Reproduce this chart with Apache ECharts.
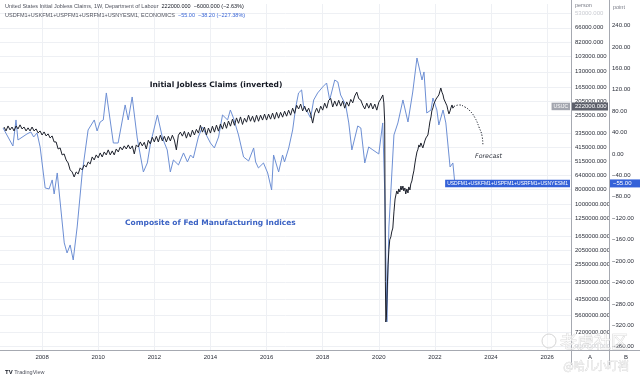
<!DOCTYPE html>
<html><head><meta charset="utf-8">
<script src="https://cdn.jsdelivr.net/npm/echarts@6/dist/echarts.min.js"></script>
<style>html,body{margin:0;padding:0;background:#fff}#c{width:640px;height:379px}</style>
</head><body><div id="c"></div>
<script>
// ---------- DATA ----------
// Initial jobless claims (thousands), regular samples from 2006.643, every 1/14 year
const claimsStartYear = 2006.643;
const claimsStepYears = 1 / 14;
const claimsEarlyK = [
305,324,300,319,305,324,300,314,295,314,
305,324,309,324,305,324,314,334,324,345,
329,350,339,361,350,384,384,428,421,469,
462,507,531,591,610,659,610,629,573,591,
548,565,523,539,484,507,469,491,455,484,
448,469,434,469,441,469,428,448,415,434,
408,428,402,428,408,462,402,415,384,408,
386,428,374,396,357,384,352,384,346,378,
352,384,352,378,346,373,434,346,330,351,
326,362,331,356,320,345,316,335,297,330,
305,345,310,335,301,330,296,325,291,315,
283,311,278,301,270,297,265,288,261,293,
266,283,254,279,258,283,254,279,254,274,
250,274,250,270,246,270,243,266,243,262,
239,258,235,254,228,247,218,231,214,238,
221,242,228,250,287,246,228,246,221,235,
211,228,202,196,224,204,221,202,221,204,
228,207,221,199,210,189,178,197,201,218,
231,211,228,211,231,214,235,208,198,186];
const claimsCovidYears = [2020.18,2020.21,2020.235,2020.25,2020.27,2020.29,2020.31,2020.33,2020.36,2020.39,2020.43,2020.46,2020.50,2020.54,2020.58,2020.61,2020.64,2020.68,2020.71,2020.75,2020.79,2020.82,2020.86,2020.89,2020.93,2020.96,
2021.00,2021.04,2021.07,2021.11,2021.14,2021.18,2021.21,2021.25,2021.29,2021.32,2021.36,2021.39,2021.43,2021.46,2021.50,2021.54,2021.57,2021.61,2021.64,2021.68,2021.71,2021.75,2021.79,2021.82,2021.86,2021.89,2021.93,2021.96,
2022.00,2022.04,2022.07,2022.11,2022.14,2022.18,2022.21,2022.25,2022.29,2022.32,2022.36,2022.39,2022.43,2022.46,2022.50,2022.54,2022.57,2022.61,2022.64,2022.68];
const claimsCovidK = [210,282,3300,6180,5800,4400,3330,2560,2030,1740,1660,1540,1450,1130,926,898,818,857,793,831,758,806,758,818,781,857,
793,844,769,806,734,701,649,600,531,491,448,434,402,415,390,408,421,396,378,361,367,345,309,282,261,238,227,214,
210,198,204,192,186,175,167,178,186,198,192,204,220,234,249,238,227,217,228,222];
const forecastYears = [2022.68,2022.86,2023.07,2023.25,2023.43,2023.57,2023.68,2023.71];
const forecastK = [222,217,224,238,265,305,350,402];

// Composite of Fed manufacturing indices (points)
const fedYears = [2006.61,2006.96,2007.07,2007.14,2007.46,2007.60,2007.70,2007.82,2007.93,2008.11,2008.25,2008.36,2008.43,2008.54,2008.61,2008.79,2008.89,2009.00,2009.11,2009.25,2009.43,2009.64,2009.86,2009.96,2010.07,2010.18,2010.29,2010.54,2010.71,2010.96,2011.07,2011.21,2011.39,2011.61,2011.75,2011.86,2012.11,2012.29,2012.46,2012.57,2012.68,2012.86,2013.04,2013.18,2013.29,2013.39,2013.57,2013.71,2013.89,2014.00,2014.14,2014.29,2014.43,2014.61,2014.71,2014.82,2015.00,2015.18,2015.36,2015.54,2015.61,2015.71,2015.89,2016.04,2016.18,2016.25,2016.43,2016.57,2016.64,2016.79,2016.93,2017.04,2017.14,2017.25,2017.32,2017.46,2017.57,2017.68,2017.82,2018.00,2018.14,2018.25,2018.43,2018.54,2018.64,2018.82,2018.93,2019.04,2019.25,2019.36,2019.50,2019.64,2019.79,2020.00,2020.14,2020.21,2020.29,2020.36,2020.54,2020.68,2020.86,2021.04,2021.21,2021.36,2021.54,2021.61,2021.71,2021.86,2021.93,2022.07,2022.14,2022.29,2022.39,2022.54,2022.64,2022.71];
const fedValues = [48.5,14.9,63.5,26.1,37.3,41.1,31.7,39.2,13.1,-63.5,-65.3,-48.5,-74.7,-35.5,-39.2,-166.1,-184.8,-169.9,-197.9,-136.3,-35.5,44.8,63.5,42.9,59.7,63.5,113.9,20.5,20.5,91.5,63.5,106.4,29.9,-33.6,-16.8,18.7,72.8,29.9,7.5,-33.6,-11.2,-20.5,1.9,-14.9,-1.9,-7.5,31.7,50.4,31.7,20.5,11.2,31.7,72.8,63.5,82.1,67.2,35.5,-5.6,-13.1,11.2,-14.9,-26.1,-16.8,-35.5,-67.2,-1.9,-33.6,-1.9,-14.9,11.2,44.8,87.7,113.9,119.5,87.7,78.4,67.2,100.8,113.9,125.1,132.5,100.8,138.1,134.4,110.1,91.5,57.9,7.5,52.3,48.5,-16.8,13.1,7.5,0,57.9,-67.2,-313.6,-136.3,35.5,57.9,100.8,59.7,115.7,179.2,138.1,153.1,76.5,82.1,104.5,82.1,54.1,82.1,57.9,-24.3,-16.8,-55];

// Tick labels
const yearTicks = [2008,2010,2012,2014,2016,2018,2020,2022,2024,2026];
const personTicks = [53000,66000,82000,103000,130000,165000,205000,255000,335000,415000,515000,640000,800000,1000000,1250000,1650000,2050000,2550000,3350000,4350000,5600000,7200000,9000000];
const pointTicks = [240,200,160,120,80,40,0,-40,-80,-120,-160,-200,-240,-280,-320,-360];
const fadedPersonTicks = [53000, 9000000];

// Header values
const claimsChange = -6000, claimsChangePct = -2.63;
const fedChange = -38.20, fedChangePct = -227.38;

// ---------- BUILD ----------
const claimsData = claimsEarlyK.map((k, i) => [claimsStartYear + i * claimsStepYears, k * 1000])
  .concat(claimsCovidYears.map((y, i) => [y, claimsCovidK[i] * 1000]));
const forecastData = forecastYears.map((y, i) => [y, forecastK[i] * 1000]);
const fedData = fedYears.map((y, i) => [y, fedValues[i]]);

const UI = '"Liberation Sans", Arial, sans-serif';
const ANN = '"DejaVu Sans", Verdana, sans-serif';
const minus = '\u2212';
const sgn = (v, d) => (v < 0 ? minus : '') + Math.abs(v).toFixed(d);

const GRID = {left: 0, right: 69, top: 4, bottom: 29};
const chart = echarts.init(document.getElementById('c'), null, {renderer: 'canvas', width: 640, height: 379});

const option = {
  animation: false,
  backgroundColor: '#ffffff',
  grid: GRID,
  xAxis: {
    type: 'value', min: 2006.5, max: 2026.85,
    axisLine: {show: false},
    axisTick: {show: false, customValues: yearTicks},
    axisLabel: {customValues: yearTicks, formatter: v => String(v), fontSize: 6, fontFamily: UI, color: '#2a2e39', margin: 4},
    splitLine: {show: true, lineStyle: {color: '#eef0f4', width: 1}}
  },
  yAxis: [
    {
      type: 'log', inverse: true, min: 45690, max: 9520000, position: 'right', offset: 0,
      axisLine: {show: false},
      axisTick: {show: false, customValues: personTicks},
      axisLabel: {customValues: personTicks, formatter: v => Number(v).toFixed(3), align: 'left', margin: 4,
        fontSize: 6, fontFamily: UI,
        color: v => fadedPersonTicks.indexOf(Math.round(v)) >= 0 ? '#c9cbd1' : '#2a2e39'},
      splitLine: {show: true, lineStyle: {color: '#eef0f4', width: 1}}
    },
    {
      type: 'value', min: -366, max: 280, position: 'right', offset: 38,
      axisLine: {show: false},
      axisTick: {show: false, customValues: pointTicks},
      axisLabel: {customValues: pointTicks, formatter: v => sgn(v, 2), align: 'left', margin: 3,
        fontSize: 6, fontFamily: UI, color: '#2a2e39'},
      splitLine: {show: false}
    }
  ],
  series: [
    {name: 'USIJC', type: 'line', data: claimsData, yAxisIndex: 0, showSymbol: false, symbol: 'none',
      lineStyle: {color: '#1e222d', width: 1}, z: 4},
    {name: 'Forecast', type: 'line', data: forecastData, yAxisIndex: 0, showSymbol: false, symbol: 'none', smooth: 0.5,
      lineStyle: {color: '#1e222d', width: 1, type: [1.2, 1.6]}, z: 4},
    {name: 'Fed', type: 'line', data: fedData, yAxisIndex: 1, showSymbol: false, symbol: 'none',
      lineStyle: {color: '#6d8fd4', width: 1}, z: 3}
  ]
};
chart.setOption(option);

// ---------- ANNOTATIONS ----------
const W = 640, H = 379;
const plotRight = W - GRID.right;
const plotBottom = H - GRID.bottom;
const lastClaim = claimsData[claimsData.length - 1][1];
const lastFed = fedValues[fedValues.length - 1];
const yC = chart.convertToPixel({yAxisIndex: 0}, lastClaim);
const yF = chart.convertToPixel({yAxisIndex: 1}, lastFed);
const pTitle1 = chart.convertToPixel({seriesIndex: 0}, [2014.2, 159000]);
const pTitle2 = chart.convertToPixel({seriesIndex: 2}, [2014.0, -129]);
const pFore = chart.convertToPixel({seriesIndex: 0}, [2023.43, 477000]);

const sepColor = '#a6a9b1';
const graphics = [
  {type: 'line', shape: {x1: plotRight + 0.5, y1: 0, x2: plotRight + 0.5, y2: 365}, style: {stroke: sepColor, lineWidth: 1}, z: 50},
  {type: 'line', shape: {x1: plotRight + 38.5, y1: 0, x2: plotRight + 38.5, y2: 365}, style: {stroke: sepColor, lineWidth: 1}, z: 50},
  {type: 'line', shape: {x1: 0, y1: plotBottom + 0.5, x2: W, y2: plotBottom + 0.5}, style: {stroke: sepColor, lineWidth: 1}, z: 50},
  {type: 'text', x: plotRight + 4, y: 5, style: {text: 'person', fontSize: 5.5, fontFamily: UI, fill: '#787b86', verticalAlign: 'middle'}, z: 50},
  {type: 'text', x: plotRight + 42, y: 7, style: {text: 'point', fontSize: 5.5, fontFamily: UI, fill: '#787b86', verticalAlign: 'middle'}, z: 50},
  {type: 'text', x: plotRight + 19, y: 357, style: {text: 'A', fontSize: 6, fontFamily: UI, fill: '#2a2e39', align: 'center', verticalAlign: 'middle'}, z: 50},
  {type: 'text', x: plotRight + 55, y: 357, style: {text: 'B', fontSize: 6, fontFamily: UI, fill: '#2a2e39', align: 'center', verticalAlign: 'middle'}, z: 50},
  {type: 'text', x: 5, y: 6, style: {
    text: '{g|United States Initial Jobless Claims, 1W, Department of Labour}  {d|' + lastClaim.toFixed(3) + '}  {d|' + sgn(claimsChange, 3) + ' (' + sgn(claimsChangePct, 2) + '%)}',
    verticalAlign: 'middle', fontFamily: UI, fontSize: 5.5,
    rich: {g: {fill: '#50535e', fontSize: 5.5, fontFamily: UI}, d: {fill: '#131722', fontSize: 5.5, fontFamily: UI}}}, z: 50},
  {type: 'text', x: 5, y: 15.5, style: {
    text: '{g|USDFM1+USKFM1+USPFM1+USRFM1+USNYESM1, ECONOMICS}  {b|' + sgn(lastFed, 2) + '}  {b|' + sgn(fedChange, 2) + ' (' + sgn(fedChangePct, 2) + '%)}',
    verticalAlign: 'middle', fontFamily: UI, fontSize: 5.5,
    rich: {g: {fill: '#50535e', fontSize: 5.5, fontFamily: UI}, b: {fill: '#3a66d6', fontSize: 5.5, fontFamily: UI}}}, z: 50},
  {type: 'text', x: pTitle1[0], y: pTitle1[1], style: {text: 'Initial Jobless Claims (inverted)', fontSize: 7.5, fontWeight: 'bold', fontFamily: ANN, fill: '#131722', align: 'center', verticalAlign: 'middle'}, z: 40},
  {type: 'text', x: pTitle2[0], y: pTitle2[1], style: {text: 'Composite of Fed Manufacturing Indices', fontSize: 7.5, fontWeight: 'bold', fontFamily: ANN, fill: '#3c63c4', align: 'center', verticalAlign: 'middle'}, z: 40},
  {type: 'text', x: pFore[0], y: pFore[1], style: {text: 'Forecast', fontSize: 6.3, fontStyle: 'italic', fontFamily: ANN, fill: '#2a2e39', align: 'left', verticalAlign: 'middle'}, z: 40},
  {type: 'text', x: plotRight - 1, y: yC, style: {text: 'USIJC', fontSize: 5, fontFamily: UI, fill: '#ffffff', backgroundColor: '#a3a6af', padding: [1.5, 2, 1, 2], align: 'right', verticalAlign: 'middle'}, z: 60},
  {type: 'rect', shape: {x: plotRight + 1, y: yC - 4, width: 36, height: 8}, style: {fill: '#5d606b'}, z: 60},
  {type: 'text', x: plotRight + 4, y: yC, style: {text: lastClaim.toFixed(3), fontSize: 6, fontFamily: UI, fill: '#ffffff', align: 'left', verticalAlign: 'middle'}, z: 61},
  {type: 'text', x: plotRight - 1, y: yF, style: {text: 'USDFM1+USKFM1+USPFM1+USRFM1+USNYESM1', fontSize: 5, fontFamily: UI, fill: '#ffffff', backgroundColor: '#3461d8', padding: [1.5, 2, 1, 2], align: 'right', verticalAlign: 'middle'}, z: 60},
  {type: 'rect', shape: {x: plotRight + 39, y: yF - 4, width: 30, height: 8}, style: {fill: '#3461d8'}, z: 60},
  {type: 'text', x: plotRight + 42, y: yF, style: {text: sgn(lastFed, 2), fontSize: 6, fontFamily: UI, fill: '#ffffff', align: 'left', verticalAlign: 'middle'}, z: 61},
  {type: 'text', x: 5, y: 372, style: {text: '{l|TV} TradingView', verticalAlign: 'middle', fontSize: 5.5, fontFamily: UI, fill: '#50535e',
    rich: {l: {fontWeight: 'bold', fill: '#131722', fontSize: 6, fontFamily: UI}}}, z: 50},
  {type: 'circle', shape: {cx: 549, cy: 341, r: 7}, style: {fill: 'rgba(255,255,255,0.4)', stroke: '#d6d6d6', lineWidth: 1}, z: 70},
  {type: 'text', x: 594, y: 342, style: {text: '老虎社区', fontSize: 17, fontFamily: '"Noto Sans CJK SC", sans-serif', fill: 'rgba(255,255,255,0.55)', stroke: '#d2d2d2', lineWidth: 0.6, align: 'center', verticalAlign: 'middle'}, z: 70},
  {type: 'text', x: 596, y: 366, style: {text: '@哈儿小叮裆', fontSize: 11, fontFamily: '"Noto Sans CJK SC", sans-serif', fill: 'rgba(255,255,255,0.55)', stroke: '#cfcfcf', lineWidth: 0.5, align: 'center', verticalAlign: 'middle'}, z: 70}
];
chart.setOption({graphic: graphics});
</script>
</body></html>
